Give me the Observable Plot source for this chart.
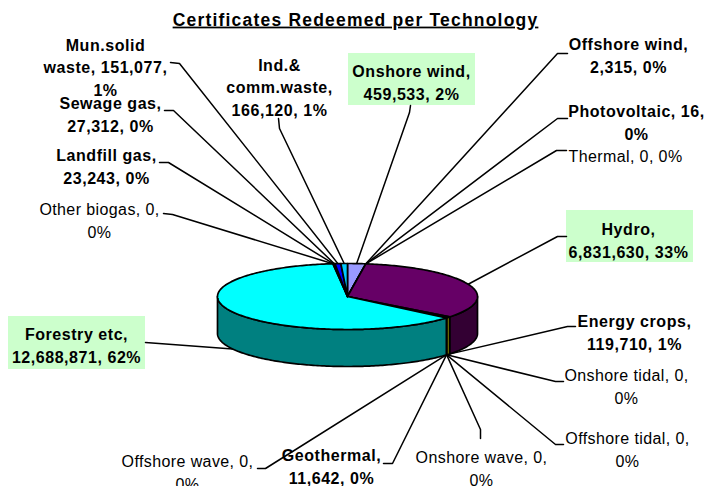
<!DOCTYPE html>
<html>
<head>
<meta charset="utf-8">
<script src="https://cdn.jsdelivr.net/npm/d3@7"></script>
<script src="https://cdn.jsdelivr.net/npm/@observablehq/plot@0.6"></script>
<style>
  html, body { margin: 0; padding: 0; background: #fff; }
</style>
</head>
<body>
<div id="chart"></div>
<script>
// ---- data ----
const chartTitle = "Certificates Redeemed per Technology";
const technologies = ["Onshore wind","Offshore wind","Photovoltaic","Thermal","Hydro","Energy crops","Onshore tidal","Offshore tidal","Onshore wave","Geothermal","Offshore wave","Forestry etc","Other biogas","Landfill gas","Sewage gas","Mun.solid waste","Ind.&comm.waste"];
const certificates = [459533,2315,16,0,6831630,119710,0,0,0,11642,0,12688871,0,23243,27312,151077,166120];
const topColors = ["#9999FF","#993366","#FFFFCC","#CCFFFF","#660066","#FFFF00","#0066CC","#CCCCFF","#000080","#FF00FF","#FFFF00","#00FFFF","#800080","#800000","#008080","#0000FF","#00CCFF"];
const highlighted = ["Onshore wind","Hydro","Forestry etc"];

// ---- layout of labels (pixel positions of text blocks and leader starts) ----
const labelLayout = [
  {tx:411, ty:80.5, box:[348,53,475,105], start:[410,105], elbow:[409,112], tpl:"{n},\n{v}, {p}"},
  {tx:628, ty:54,   start:[567,53],  elbow:[557,53],  tpl:"{n},\n{v}, {p}"},
  {tx:636, ty:121,  start:[567,118], elbow:[557,118], tpl:"{n}, {v},\n{p}"},
  {tx:625, ty:154,  start:[566,150], elbow:[556,150], tpl:"{n}, {v}, {p}"},
  {tx:628, ty:239,  box:[566,210,693,262], start:[566,236], elbow:[557,236], tpl:"{n},\n{v}, {p}"},
  {tx:634, ty:330.5,start:[575,326], elbow:[567,326], tpl:"{n},\n{v}, {p}"},
  {tx:626, ty:385,  start:[563,381], elbow:[555,381], tpl:"{n}, {v},\n{p}"},
  {tx:627, ty:448,  start:[563,444], elbow:[555,444], tpl:"{n}, {v},\n{p}"},
  {tx:481, ty:467,  start:[480,438], elbow:[480,429], tpl:"{n}, {v},\n{p}"},
  {tx:331, ty:464.5,start:[383,463], elbow:[392,463], tpl:"{n},\n{v}, {p}"},
  {tx:187, ty:470.5,start:[257,468], elbow:[265,468], tpl:"{n}, {v},\n{p}"},
  {tx:76,  ty:344,  box:[8,316,145,369], start:[145,342], elbow:null, tpl:"{n},\n{v}, {p}"},
  {tx:99,  ty:219,  start:[163,213], elbow:[172,214], tpl:"{n}, {v},\n{p}"},
  {tx:106, ty:164.5,start:[159,162], elbow:[168,162], tpl:"{n},\n{v}, {p}"},
  {tx:110, ty:112.5,start:[164,110], elbow:[173,110], tpl:"{n},\n{v}, {p}"},
  {tx:105, ty:65.5, start:[170,62],  elbow:[179,63],  tpl:"Mun.solid\nwaste, {v},\n{p}"},
  {tx:279, ty:85.5, start:[278,118], elbow:[279,128], tpl:"Ind.&\ncomm.waste,\n{v}, {p}"}
];

// ---- pie geometry ----
const W = 705, H = 486;
const cx = 347, cy = 296, rx = 130, ry = 33, depth = 37;
const pt = (a, dz = 0) => [cx + rx * Math.sin(a), cy - ry * Math.cos(a) + dz];
const darken = c => { const k = d3.rgb(c); return d3.rgb(k.r / 2, k.g / 2, k.b / 2).formatHex(); };

const total = d3.sum(certificates);
let cum = 0;
const slices = technologies.map((name, i) => {
  const a0 = cum / total * 2 * Math.PI;
  cum += certificates[i];
  const a1 = cum / total * 2 * Math.PI;
  return {name, value: certificates[i], a0, a1, color: topColors[i], side: darken(topColors[i]), i};
});

function arcPts(a0, a1, dz = 0) {
  const n = Math.max(2, Math.ceil((a1 - a0) / (Math.PI / 180)) + 1);
  return d3.range(n).map(k => pt(a0 + (a1 - a0) * k / (n - 1), dz));
}

const sideMarks = [], topMarks = [];
slices.forEach(s => {
  if (s.value <= 0) return;
  const b0 = Math.max(s.a0, Math.PI / 2), b1 = Math.min(s.a1, 3 * Math.PI / 2);
  if (b1 > b0) {
    const poly = [...arcPts(b0, b1), ...arcPts(b0, b1, depth).reverse()];
    poly.push(poly[0]);
    sideMarks.push(Plot.line(poly, {x: d => d[0], y: d => d[1], fill: s.side, stroke: "black", strokeWidth: 1.7, strokeLinejoin: "round"}));
  }
  const poly = [[cx, cy], ...arcPts(s.a0, s.a1), [cx, cy]];
  topMarks.push(Plot.line(poly, {x: d => d[0], y: d => d[1], fill: s.color, stroke: "black", strokeWidth: 1.7, strokeLinejoin: "round"}));
});

// leader lines and labels
const fmt = d3.format(",");
const leaderRows = [];
const labelRows = [];
const boxRows = [];
slices.forEach((s, i) => {
  const L = labelLayout[i];
  const mid = (s.a0 + s.a1) / 2;
  const target = pt(mid, Math.cos(mid) < 0 ? depth : 0);
  const pts = [L.start];
  if (L.elbow) pts.push(L.elbow);
  pts.push(target);
  pts.forEach(p => leaderRows.push({id: i, x: p[0], y: p[1]}));
  const pct = Math.round(s.value / total * 100) + "%";
  const text = L.tpl.replace("{n}", s.name).replace("{v}", fmt(s.value)).replace("{p}", pct);
  labelRows.push({x: L.tx, y: L.ty, text, bold: s.value > 0});
  if (highlighted.includes(s.name) && L.box) boxRows.push({x1: L.box[0], y1: L.box[1], x2: L.box[2], y2: L.box[3]});
});

const plot = Plot.plot({
  width: W, height: H, margin: 0,
  x: {type: "linear", domain: [0, W], range: [0, W], axis: null},
  y: {type: "linear", domain: [0, H], range: [0, H], axis: null},
  style: {fontFamily: "'Liberation Sans', Arial, sans-serif", background: "#fff"},
  marks: [
    Plot.text([{x: 355, y: 19.5, t: chartTitle}], {x: "x", y: "y", text: "t", fontSize: 17.5, fontWeight: "bold", fill: "black"}),
    Plot.rect(boxRows, {x1: "x1", x2: "x2", y1: "y1", y2: "y2", fill: "#CCFFCC"}),
    Plot.line(leaderRows, {x: "x", y: "y", z: "id", stroke: "black", strokeWidth: 1.5}),
    ...sideMarks,
    ...topMarks,
    Plot.text(labelRows.filter(d => d.bold), {x: "x", y: "y", text: "text", fontSize: 16, fontWeight: "bold", lineHeight: 1.42, fill: "black"}),
    Plot.text(labelRows.filter(d => !d.bold), {x: "x", y: "y", text: "text", fontSize: 16, lineHeight: 1.42, fill: "black"})
  ]
});

const texts = plot.querySelectorAll('g[aria-label="text"]');
if (texts[0]) { texts[0].style.letterSpacing = "1.2px"; texts[0].style.textDecoration = "underline"; }
if (texts[1]) texts[1].style.letterSpacing = "0.55px";
if (texts[2]) texts[2].style.letterSpacing = "0.4px";
document.getElementById("chart").appendChild(plot);
</script>
</body>
</html>
